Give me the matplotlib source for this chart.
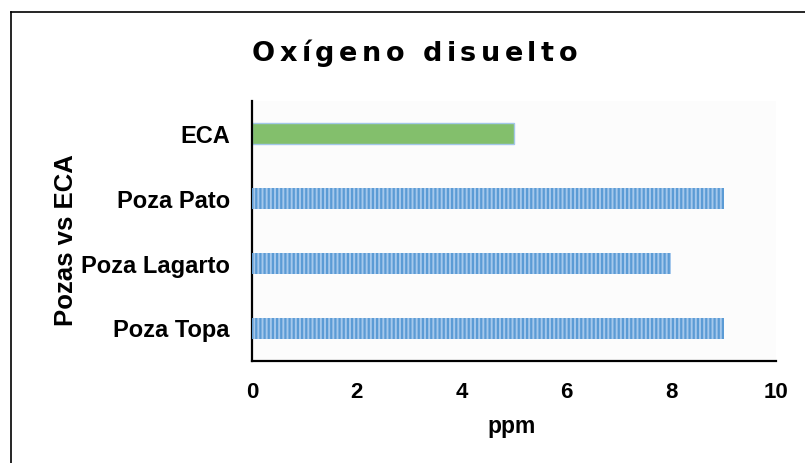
import matplotlib
matplotlib.use("Agg")
import matplotlib.pyplot as plt
from matplotlib.lines import Line2D

categories = ["Poza Topa", "Poza Lagarto", "Poza Pato", "ECA"]
values = [9, 8, 9, 5]
xticks = [0, 2, 4, 6, 8, 10]
title = "Oxígeno disuelto"
xlabel = "ppm"
ylabel = "Pozas vs ECA"

plt.rcParams['font.family'] = ['Liberation Sans', 'DejaVu Sans']
plt.rcParams['hatch.linewidth'] = 1.6

W, H = 805, 463
fig = plt.figure(figsize=(W/100, H/100), dpi=100)
fig.patch.set_facecolor('white')
ax = fig.add_axes([252/W, 1-361/H, (776-252)/W, (361-101)/H])
ax.set_facecolor('#fcfcfc')

ypos = list(range(len(categories)))
bh = 0.325
for y, v, c in zip(ypos, values, categories):
    if c == "ECA":
        ax.barh(y, v, height=bh, color='#83bf6c', edgecolor='#a3c7e8', linewidth=1.0, zorder=2)
    else:
        ax.barh(y, v, height=bh, color='#a5c8ec', edgecolor='none', linewidth=0, zorder=2)
        ax.barh(y, v, height=bh, facecolor='none', edgecolor='#5b9bd5', hatch='||||', linewidth=0, zorder=3)

ax.set_xlim(0, 10)
ax.set_ylim(-0.5, 3.5)
ax.set_xticks(xticks)
ax.set_xticklabels([str(t) for t in xticks], fontsize=16, fontweight='bold')
ax.set_yticks(ypos)
ax.set_yticklabels(categories, fontsize=17, fontweight='bold')
ax.tick_params(axis='both', length=0)
ax.tick_params(axis='y', pad=16)
ax.tick_params(axis='x', pad=15)
for s in ['top', 'right']:
    ax.spines[s].set_visible(False)
for s in ['left', 'bottom']:
    ax.spines[s].set_linewidth(1.6)
    ax.spines[s].set_color('black')

fig.text(512/W, 1-427/H, xlabel, ha='center', va='center', fontsize=16.5, fontweight='bold')
fig.text(66/W, 1-240/H, ylabel, ha='center', va='center', rotation=90, fontsize=18.5, fontweight='bold')

# letter-spaced (wide) title, total width fitted to the reference span
renderer = fig.canvas.get_renderer()
tfam = ['DejaVu Sans']
tsize = 19.5
x0, x1 = 252.0, 577.0
base_y = 1 - 61/H
tmp = [fig.text(0, 0, ch, fontsize=tsize, fontweight='bold', family=tfam) for ch in title]
widths = [t.get_window_extent(renderer=renderer).width for t in tmp]
for t in tmp:
    t.remove()
spacing = ((x1 - x0) - sum(widths)) / (len(title) - 1)
x = x0
for ch, w in zip(title, widths):
    fig.text(x/W, base_y, ch, ha='left', va='baseline', fontsize=tsize, fontweight='bold', family=tfam)
    x += w + spacing

# outer frame (clipped by figure edges)
fig.add_artist(Line2D([11/W, 11/W], [-0.05, 1-12/H], color='black', linewidth=1.2, transform=fig.transFigure))
fig.add_artist(Line2D([11/W, 1.05], [1-12/H, 1-12/H], color='black', linewidth=1.2, transform=fig.transFigure))

fig.savefig("out.png", dpi=100)
